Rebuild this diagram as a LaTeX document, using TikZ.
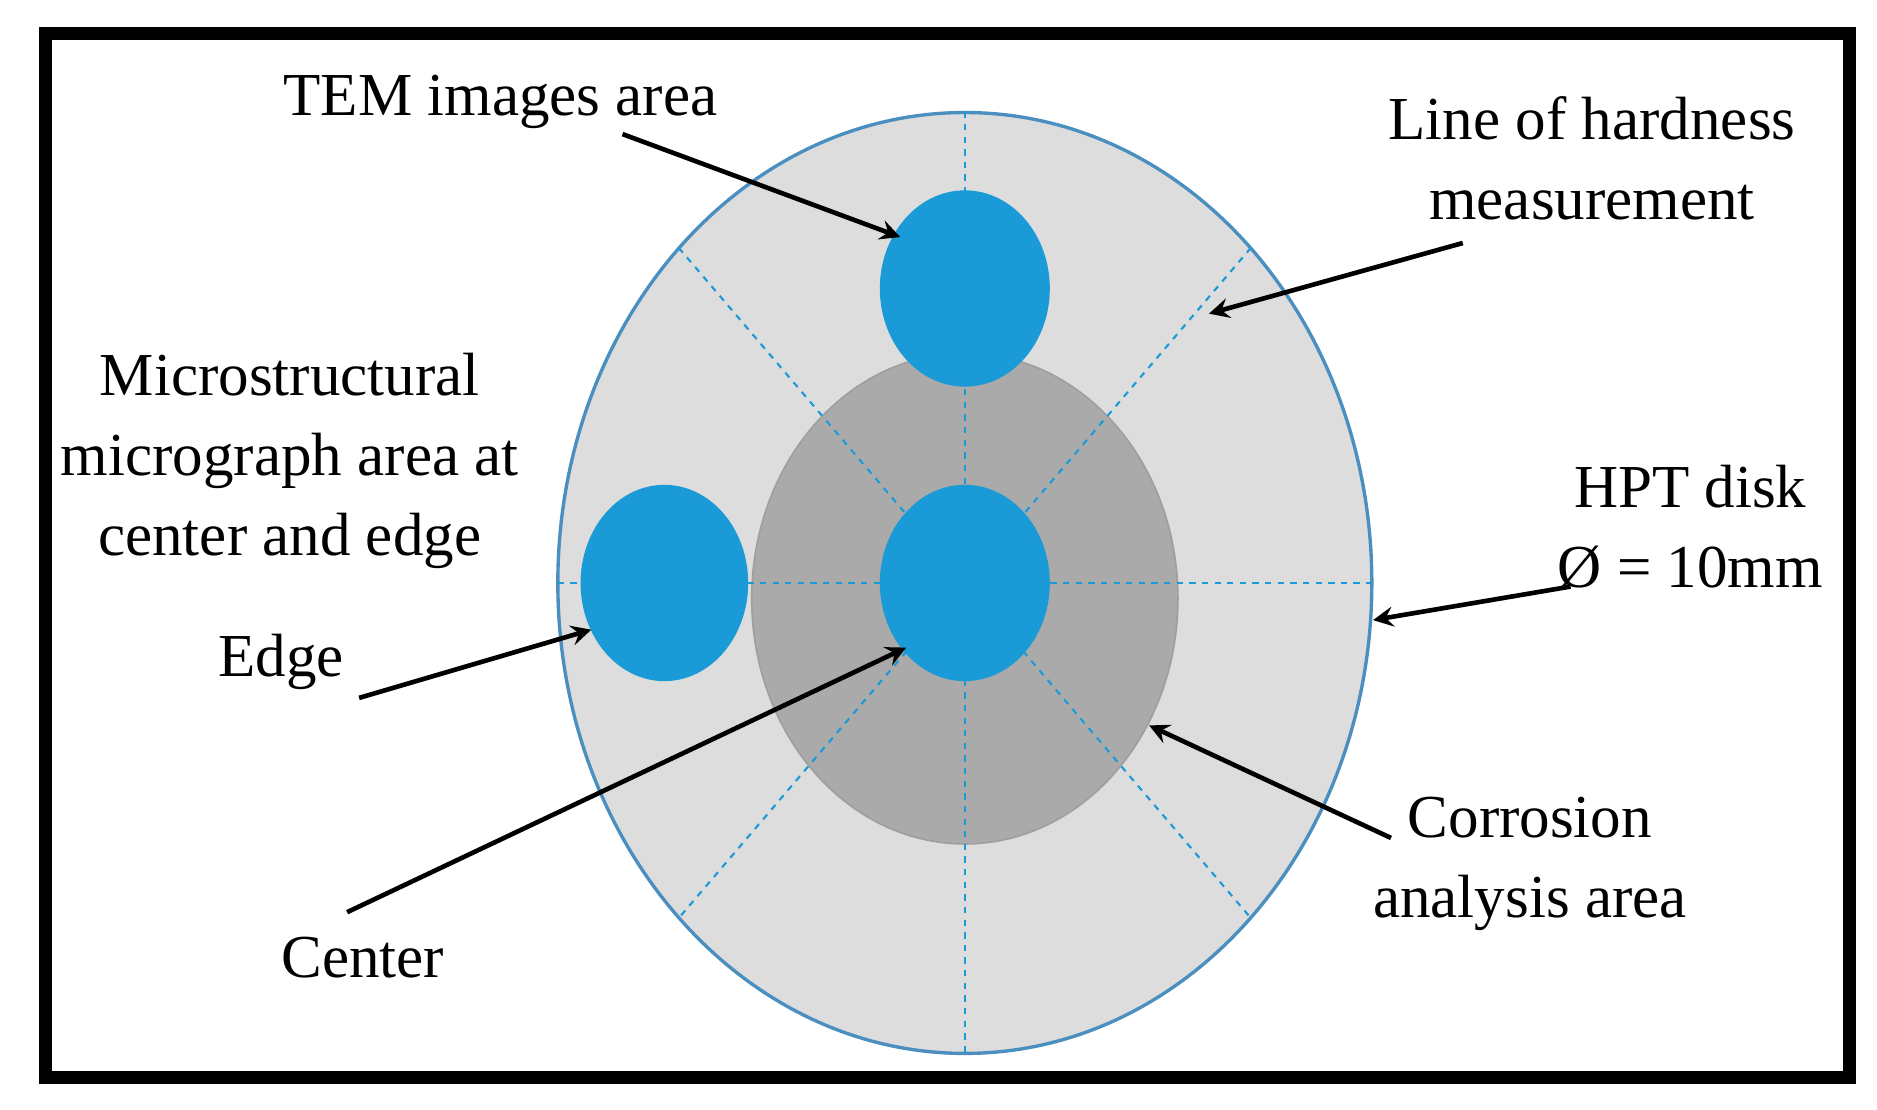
\documentclass[tikz,border=0pt]{standalone}
\usepackage{fontspec}
\setmainfont{Liberation Serif}
\definecolor{spotblue}{HTML}{1A9AD6}
\definecolor{rimblue}{HTML}{4A8FC0}
\begin{document}
\begin{tikzpicture}[x=0.01cm,y=-0.01cm,>=stealth,
    lbl/.style={align=center,font=\fontsize{14.5}{19}\selectfont},
    spot/.style={fill=spotblue,draw=none},
    guide/.style={dash pattern=on 1.5pt off 1.5pt,draw=spotblue,line width=0.5pt},
    ptr/.style={->,line width=1.1pt}
  ]
  \useasboundingbox (0,0) rectangle (1568,927);
  \fill[white] (0,0) rectangle (1568,927);
  \draw[line width=3pt] (38,28) rectangle (1545,900);

  % disk and areas
  \draw[fill=gray!27,draw=rimblue,line width=0.8pt] (806,487) ellipse [x radius=340,y radius=393];
  \draw[fill=gray!67,draw=gray!75] (806,500) ellipse [x radius=178,y radius=205];
  \fill[spot] (806,241) ellipse [x radius=71,y radius=82];
  \fill[spot] (806,487) ellipse [x radius=71,y radius=82];
  \fill[spot] (555,487) ellipse [x radius=70,y radius=82];

  % hardness lines
  \draw[guide] (806,93) -- (806,880);
  \draw[guide] (466,487) -- (1145,487);
  \draw[guide] (567,207) -- (1045,767);
  \draw[guide] (1045,207) -- (567,767);

  % labels
  \node[lbl] (tem) at (418,85) {TEM images area};
  \node[lbl] (hard) at (1330,132) {Line of hardness\\measurement};
  \node[lbl] (micro) at (242,385) {Microstructural\\micrograph area at\\center and edge};
  \node[lbl] (edge) at (235,553) {Edge};
  \node[lbl] (hpt) at (1412,440) {HPT disk\\Ø = 10mm};
  \node[lbl] (corr) at (1278,722) {Corrosion\\analysis area};
  \node[lbl] (cen) at (303,800) {Center};

  \coordinate (temtip) at (752,198);
  \coordinate (hardtip) at (1010,262);
  \coordinate (edgetip) at (494,526);
  \coordinate (hpttip) at (1147,518);
  \coordinate (corrtip) at (960,606);
  \coordinate (centip) at (757,541);

  \draw[ptr] (520,112) -- (temtip);
  \draw[ptr] (1222,203) -- (hardtip);
  \draw[ptr] (300,583) -- (edgetip);
  \draw[ptr] (1312,490) -- (hpttip);
  \draw[ptr] (1162,700) -- (corrtip);
  \draw[ptr] (290,762) -- (centip);
\end{tikzpicture}
\end{document}
